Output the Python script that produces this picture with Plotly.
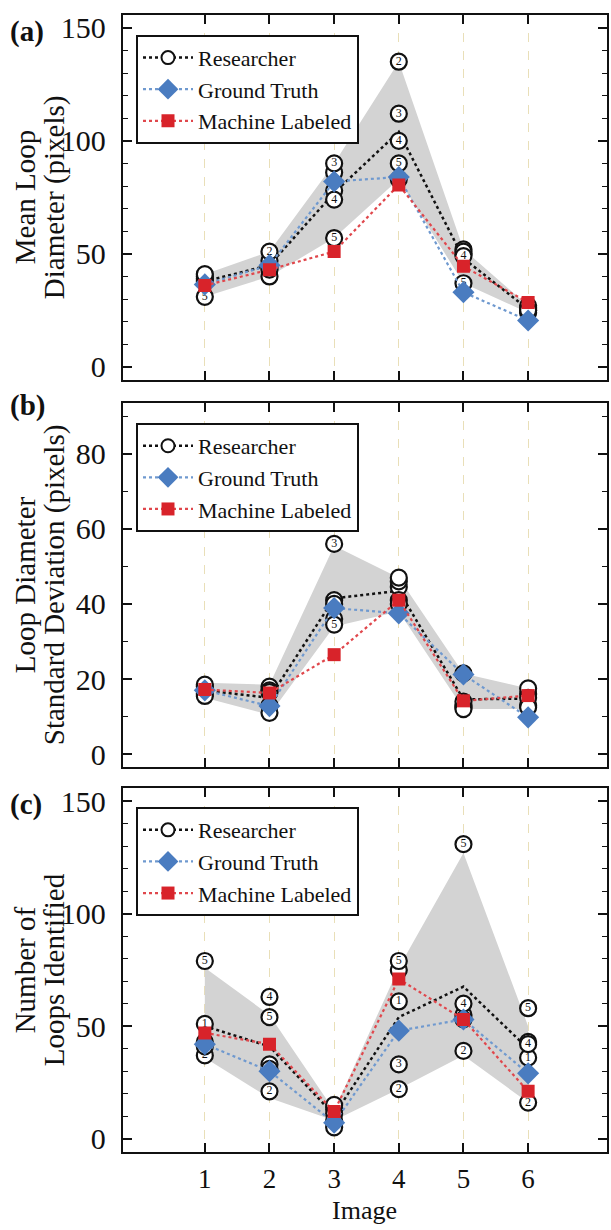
import plotly.graph_objects as go

# ---------------- data ----------------
images = [1, 2, 3, 4, 5, 6]
researcher_ids = [1, 2, 3, 4, 5]

# Panel (a) Mean loop diameter (pixels)
res_a_1 = [40, 47, 86, 83, 52, 26]
res_a_2 = [38, 51, 78, 135, 50, 25]
res_a_3 = [39, 44, 90, 112, 51, 24]
res_a_4 = [41, 40, 74, 100, 49, 27]
res_a_5 = [31, 43, 57, 90, 37, 25]
mean_a = [37.8, 45, 77, 104, 48, 25.5]
band_hi_a = [41, 51, 90, 135, 52, 27]
band_lo_a = [31, 40, 57, 83, 37, 24]
gt_a = [36.5, 45, 82, 84, 33, 20.5]
ml_a = [36, 43, 51, 80.5, 44.5, 28.5]
visible_ids_a = [[5], [2], [3, 4, 5], [2, 3, 4, 5], [4, 5], []]

# Panel (b) Loop diameter standard deviation (pixels)
res_b_1 = [18, 18, 41, 44.5, 13, 16]
res_b_2 = [17, 17, 40, 46, 12.5, 13]
res_b_3 = [16, 13, 56, 47, 14, 17.5]
res_b_4 = [15.5, 11, 36, 41, 21.5, 15]
res_b_5 = [18.5, 16.5, 34.5, 40, 12, 12.5]
mean_b = [17, 15, 41.5, 43.5, 14.6, 14.8]
band_hi_b = [19, 18.5, 55.5, 47, 21.5, 17.5]
band_lo_b = [15, 10.5, 34, 38, 12, 12]
gt_b = [17, 12.8, 38.9, 37.5, 21.2, 9.8]
ml_b = [17.2, 16.3, 26.5, 41, 14.2, 15.6]
visible_ids_b = [[], [], [3, 5], [2], [], []]

# Panel (c) Number of loops identified
res_c_1 = [51, 33, 13, 61, 55, 36]
res_c_2 = [37, 21, 11, 22, 39, 16]
res_c_3 = [43, 31, 15, 33, 53, 43]
res_c_4 = [41, 63, 8, 75, 60, 42]
res_c_5 = [79, 54, 5, 79, 131, 58]
mean_c = [50, 41, 10.5, 54, 67.6, 40]
band_hi_c = [76, 55, 12.5, 76, 127, 50]
band_lo_c = [36, 18, 8, 22, 37, 16]
gt_c = [42, 30, 7, 48, 53, 29]
ml_c = [47, 42, 12, 71, 53, 21]
visible_ids_c = [[1, 2, 5], [2, 4, 5], [], [1, 2, 3, 5], [2, 4, 5], [1, 2, 4, 5]]

x_tick_labels = ["1", "2", "3", "4", "5", "6"]
legend_names = ["Researcher", "Ground Truth", "Machine Labeled"]
panel_tags = ["(a)", "(b)", "(c)"]
title_lines = [["Mean Loop", "Diameter (pixels)"],
               ["Loop Diameter", "Standard Deviation (pixels)"],
               ["Number of", "Loops Identified"]]

# ---------------- style ----------------
SERIF = "Liberation Serif, Times New Roman, serif"
BLACK = "#111111"
BLUE = "#4a7cc0"
BLUE_LINE = "#6f99cf"
RED = "#d8232a"
RED_LINE = "#e0474c"
BAND = "#d3d3d3"
GRID = "#e9dfb8"
DASH = "3px,3px"

W, H = 611, 1230
xdom = [122.7 / W, 607 / W]
ydoms = [[1 - 378 / H, 1 - 11 / H],
         [1 - 768.3 / H, 1 - 401.7 / H],
         [1 - 1156 / H, 1 - 789.3 / H]]
yranges = [[-5.6, 155.7], [-3.5, 93.5], [-6.2, 155.9]]
ydticks = [50, 20, 50]
legend_tops = [1 - 31 / H, 1 - 421.7 / H, 1 - 808.3 / H]
tag_y = [27.5, 404, 806]

panels = [
    dict(res=[res_a_1, res_a_2, res_a_3, res_a_4, res_a_5], mean=mean_a,
         hi=band_hi_a, lo=band_lo_a, gt=gt_a, ml=ml_a, vis=visible_ids_a),
    dict(res=[res_b_1, res_b_2, res_b_3, res_b_4, res_b_5], mean=mean_b,
         hi=band_hi_b, lo=band_lo_b, gt=gt_b, ml=ml_b, vis=visible_ids_b),
    dict(res=[res_c_1, res_c_2, res_c_3, res_c_4, res_c_5], mean=mean_c,
         hi=band_hi_c, lo=band_lo_c, gt=gt_c, ml=ml_c, vis=visible_ids_c),
]

fig = go.Figure()
layout = dict(width=W, height=H, margin=dict(l=0, r=0, t=0, b=0),
              paper_bgcolor="white", plot_bgcolor="white",
              font=dict(family=SERIF, color=BLACK), showlegend=True)
annotations = []

for i, p in enumerate(panels):
    sfx = "" if i == 0 else str(i + 1)
    xa, ya = "x" + sfx, "y" + sfx
    leg = "legend" + sfx

    # legend-only entry for Researcher
    fig.add_trace(go.Scatter(
        x=[None], y=[None], mode="lines+markers", name=legend_names[0],
        line=dict(color=BLACK, width=2.5, dash=DASH),
        marker=dict(symbol="circle", size=13, color="white",
                    line=dict(color=BLACK, width=2)),
        xaxis=xa, yaxis=ya, legend=leg, showlegend=True))

    # researcher range band
    fig.add_trace(go.Scatter(
        x=images + images[::-1], y=p["hi"] + p["lo"][::-1],
        mode="lines", fill="toself", fillcolor=BAND,
        line=dict(width=0, color=BAND), hoverinfo="skip",
        xaxis=xa, yaxis=ya, showlegend=False))

    # researcher mean line
    fig.add_trace(go.Scatter(
        x=images, y=p["mean"], mode="lines",
        line=dict(color=BLACK, width=2.5, dash=DASH),
        xaxis=xa, yaxis=ya, showlegend=False))

    # individual researchers (numbered circles)
    for rid, vals in zip(researcher_ids, p["res"]):
        labels = [str(rid) if rid in p["vis"][k] else "" for k in range(len(images))]
        fig.add_trace(go.Scatter(
            x=images, y=vals, mode="markers+text",
            text=labels, textposition="middle center",
            textfont=dict(family=SERIF, size=12, color=BLACK),
            marker=dict(symbol="circle", size=16, color="white",
                        line=dict(color=BLACK, width=2.2)),
            xaxis=xa, yaxis=ya, showlegend=False))

    # ground truth
    fig.add_trace(go.Scatter(
        x=images, y=p["gt"], mode="lines+markers", name=legend_names[1],
        line=dict(color=BLUE_LINE, width=2.2, dash=DASH),
        marker=dict(symbol="diamond", size=17, color=BLUE),
        xaxis=xa, yaxis=ya, legend=leg, showlegend=True))

    # machine labeled
    fig.add_trace(go.Scatter(
        x=images, y=p["ml"], mode="lines+markers", name=legend_names[2],
        line=dict(color=RED_LINE, width=2.2, dash=DASH),
        marker=dict(symbol="square", size=13, color=RED),
        xaxis=xa, yaxis=ya, legend=leg, showlegend=True))

    layout["xaxis" + sfx] = dict(
        domain=xdom, range=[-0.27, 7.22], anchor=ya,
        tickvals=images, ticktext=x_tick_labels,
        ticks="inside", ticklen=9, tickwidth=1.6, tickcolor=BLACK,
        showline=True, linecolor=BLACK, linewidth=2, mirror="ticks",
        showgrid=True, gridcolor=GRID, griddash="dash", gridwidth=1.2,
        zeroline=False, showticklabels=(i == 2),
        tickfont=dict(family=SERIF, size=27, color=BLACK),
        ticklabelstandoff=1)
    layout["yaxis" + sfx] = dict(
        domain=ydoms[i], range=yranges[i], anchor=xa,
        tick0=0, dtick=ydticks[i],
        ticks="inside", ticklen=9, tickwidth=1.6, tickcolor=BLACK,
        minor=dict(dtick=10, tick0=0, ticks="inside", ticklen=5,
                   tickwidth=1.2, tickcolor=BLACK, showgrid=False),
        showline=True, linecolor=BLACK, linewidth=2, mirror="ticks",
        showgrid=False, zeroline=False,
        tickfont=dict(family=SERIF, size=30, color=BLACK),
        ticklabelstandoff=9)
    layout[leg] = dict(
        x=136 / W, y=legend_tops[i], xanchor="left", yanchor="top",
        bgcolor="white", bordercolor=BLACK, borderwidth=2,
        font=dict(family=SERIF, size=22, color=BLACK),
        itemwidth=50, tracegroupgap=0)

    # panel tag
    annotations.append(dict(
        text="<b>%s</b>" % panel_tags[i], xref="paper", yref="paper",
        x=8 / W, y=1 - tag_y[i] / H,
        xanchor="left", yanchor="middle", showarrow=False,
        font=dict(family=SERIF, size=29, color=BLACK)))
    # y-axis titles (two lines)
    ymid = (ydoms[i][0] + ydoms[i][1]) / 2
    for line, xc in zip(title_lines[i], [25, 54]):
        annotations.append(dict(
            text=line, xref="paper", yref="paper", x=xc / W, y=ymid,
            xanchor="center", yanchor="middle", textangle=-90,
            showarrow=False, font=dict(family=SERIF, size=29, color=BLACK)))

# x-axis title
annotations.append(dict(
    text="Image", xref="paper", yref="paper", x=(122.7 + 607) / 2 / W,
    y=0, xanchor="center", yanchor="bottom", showarrow=False,
    borderpad=0, font=dict(family=SERIF, size=26, color=BLACK)))

layout["annotations"] = annotations
fig.update_layout(**layout)
fig.write_html("out.html",
               config={"displayModeBar": False},
               post_script="document.body.style.margin='0';document.body.style.overflow='hidden';")
